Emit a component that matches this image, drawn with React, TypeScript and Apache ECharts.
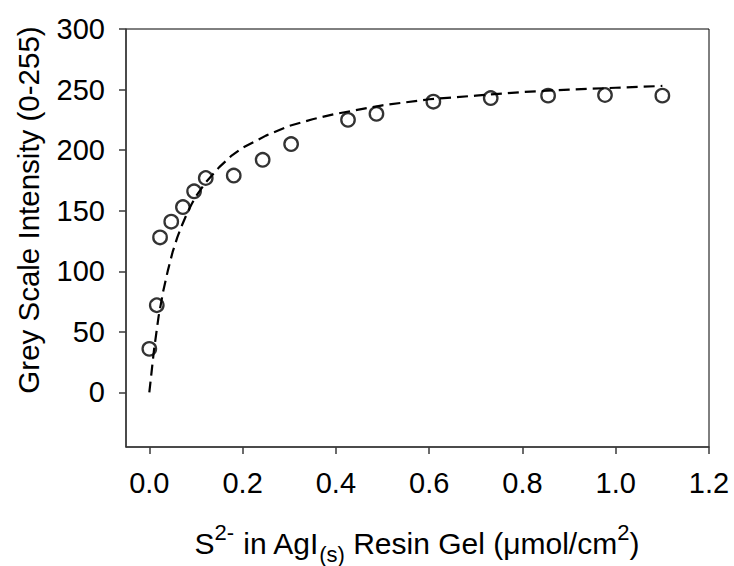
import { useEffect, useRef } from "react";
import * as echarts from "echarts";

// Measured data points (open circles)
const obsX = [0, 0.016, 0.023, 0.047, 0.072, 0.096, 0.121, 0.181, 0.243, 0.304, 0.426, 0.487, 0.609, 0.732, 0.855, 0.977, 1.1];
const obsY = [36, 72, 128, 141, 153, 166, 177, 179, 192, 205, 225, 230, 240, 243, 245, 245.5, 245];

// Dashed fit curve
const fitX = [0, 0.01, 0.02, 0.03, 0.04, 0.05, 0.06, 0.07, 0.08, 0.09, 0.1, 0.12, 0.15, 0.175, 0.2, 0.25, 0.3, 0.35, 0.4, 0.5, 0.6, 0.7, 0.8, 0.9, 1.0, 1.1];
const fitY = [0, 35, 63, 84, 101, 116, 128, 138, 147, 155, 162, 173, 186, 195, 202, 212, 220, 225.5, 230, 237, 242, 245, 248, 250, 251.5, 253];

const xTicks = [0, 0.2, 0.4, 0.6, 0.8, 1.0, 1.2];
const yTicks = [0, 50, 100, 150, 200, 250, 300];

const FONT = "'Liberation Sans', Arial, sans-serif";

export default function App() {
  const ref = useRef<HTMLDivElement>(null);
  useEffect(() => {
    if (!ref.current) return;
    const chart = echarts.init(ref.current, null, { renderer: "svg" });
    chart.setOption({
      animation: false,
      backgroundColor: "#fff",
      grid: {
        left: 126,
        right: 25,
        top: 29,
        bottom: 119,
        show: true,
        borderColor: "#000",
        borderWidth: 1,
        backgroundColor: "transparent",
      },
      xAxis: {
        type: "value",
        min: -0.05,
        max: 1.2,
        splitLine: { show: false },
        axisLine: { show: true, onZero: false, lineStyle: { color: "#3a3a3a", width: 1.5 } },
        axisTick: { show: true, inside: false, length: 7, customValues: xTicks, lineStyle: { color: "#3a3a3a", width: 1.5 } },
        axisLabel: {
          customValues: xTicks,
          formatter: (v: number) => v.toFixed(1),
          fontSize: 29,
          fontFamily: FONT,
          color: "#000",
          margin: 21,
        },
      },
      yAxis: {
        type: "value",
        min: -45,
        max: 300,
        splitLine: { show: false },
        axisLine: { show: true, onZero: false, lineStyle: { color: "#3a3a3a", width: 1.5 } },
        axisTick: { show: true, inside: false, length: 7, customValues: yTicks, lineStyle: { color: "#3a3a3a", width: 1.5 } },
        axisLabel: {
          customValues: yTicks,
          fontSize: 29,
          fontFamily: FONT,
          color: "#000",
          margin: 21,
        },
      },
      graphic: [
        {
          type: "text",
          x: 28,
          y: 210,
          rotation: Math.PI / 2,
          style: {
            text: "Grey Scale Intensity (0-255)",
            fontSize: 29.5,
            fontFamily: FONT,
            fill: "#000",
            align: "center",
            verticalAlign: "middle",
          },
        },
        {
          type: "text",
          x: 417,
          y: 543,
          style: {
            text: "{a|S}{sup|2-}{a| in AgI}{sub|(s)}{a| Resin Gel (μmol/cm}{sup|2}{a|)}",
            align: "center",
            verticalAlign: "middle",
            fontFamily: FONT,
            fill: "#000",
            rich: {
              a: { fontSize: 30, lineHeight: 44, fontFamily: FONT, fill: "#000", verticalAlign: "middle" },
              sup: { fontSize: 22, lineHeight: 24, fontFamily: FONT, fill: "#000", verticalAlign: "top" },
              sub: { fontSize: 22, lineHeight: 28, fontFamily: FONT, fill: "#000", verticalAlign: "bottom" },
            },
          },
        },
      ],
      series: [
        {
          type: "scatter",
          data: obsX.map((x, i) => [x, obsY[i]]),
          symbol: "circle",
          symbolSize: 13.5,
          itemStyle: { color: "rgba(0,0,0,0)", borderColor: "#000", borderWidth: 2.3 },
          z: 2,
        },
        {
          type: "line",
          data: fitX.map((x, i) => [x, fitY[i]]),
          showSymbol: false,
          smooth: false,
          lineStyle: { color: "#000", width: 2.2, type: [11, 6] },
          z: 3,
        },
      ],
    });
    return () => chart.dispose();
  }, []);
  return (
    <div
      ref={ref}
      style={{ position: "absolute", left: 0, top: 0, width: 734, height: 566 }}
    />
  );
}
